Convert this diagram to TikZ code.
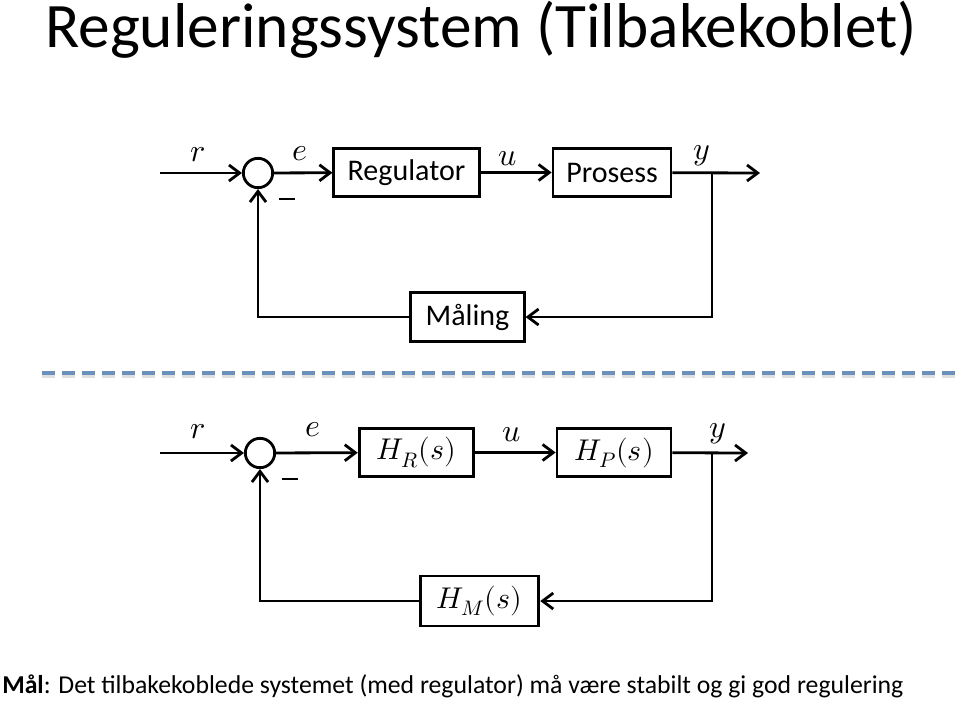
\documentclass[tikz,border=0pt]{standalone}
\usepackage{fontspec}
\usepackage{unicode-math}
\setmainfont{Carlito}
\setmathfont{Latin Modern Math}
\usetikzlibrary{arrows.meta}
\definecolor{dashblue}{HTML}{6A91BC}
\begin{document}
\begin{tikzpicture}[x=0.75pt,y=-0.75pt,
  conn/.style={line width=2.1pt},
  arr/.style={conn,-{Straight Barb[length=8pt,width=12pt,line width=2.1pt]}},
  blk/.style={draw,line width=2.1pt,minimum height=36pt,inner sep=0pt,font=\fontsize{22.5}{26}\selectfont},
  sumnode/.style={draw,circle,line width=2.1pt,minimum size=22pt,inner sep=0pt},
  sig/.style={inner sep=0pt,font=\fontsize{24}{28}\selectfont},
  minus/.style={inner sep=0pt}
]
\useasboundingbox (0,0) rectangle (960,701);
% title
\node[anchor=base west,inner sep=0pt,font=\fontsize{47.5}{52}\selectfont] (title) at (45,47) {Reguleringssystem (Tilbakekoblet)};

% ---------- top diagram ----------
\coordinate (r1) at (160,173);
\node[sumnode] (s1) at (258,173) {};
\node[blk,minimum width=109pt] (reg) at (406.5,172.5) {Regulator};
\node[blk,minimum width=88.5pt] (pro) at (612,172.5) {Prosess};
\node[blk,minimum width=85pt,minimum height=37pt] (mal) at (467.5,317) {Måling};
\coordinate (y1) at (760,173);
\coordinate (b1) at (712,173);
\draw[arr] (r1) -- (s1);
\draw[arr] (s1) -- (reg);
\draw[arr] (reg) -- (pro);
\draw[arr] (pro) -- (y1);
\draw[arr] (b1) |- (mal);
\draw[arr] (mal) -| (s1);
\node[sig] (lr1) at (198,155) {$r$};
\node[sig] (le1) at (300,154) {$e$};
\node[sig] (lu1) at (508,159) {$u$};
\node[sig] (ly1) at (702,156) {$y$};
\node[minus] (m1) at (287,199) {\rule{11.5pt}{2.2pt}};

% dashed separator
\draw[black!25,line width=3.5pt,dash pattern=on 9.75pt off 5.25pt,opacity=0.5] (42,376) -- (955,376);
\draw[dashblue,line width=3.5pt,dash pattern=on 9.75pt off 5.25pt] (42,373) -- (955,373);

% ---------- bottom diagram ----------
\coordinate (r2) at (160,453);
\node[sumnode] (s2) at (260,453) {};
\node[blk,minimum width=86pt] (hr) at (416.5,452.5) {$H_R(s)$};
\node[blk,minimum width=85.5pt] (hp) at (614,452.5) {$H_P(s)$};
\node[blk,minimum width=89pt,minimum height=37.5pt] (hm) at (479.5,601) {$H_M(s)$};
\coordinate (y2) at (748,453);
\coordinate (b2) at (712,453);
\draw[arr] (r2) -- (s2);
\draw[arr] (s2) -- (hr);
\draw[arr] (hr) -- (hp);
\draw[arr] (hp) -- (y2);
\draw[arr] (b2) |- (hm);
\draw[arr] (hm) -| (s2);
\node[sig] (lr2) at (198,432) {$r$};
\node[sig] (le2) at (313,430) {$e$};
\node[sig] (lu2) at (512,435) {$u$};
\node[sig] (ly2) at (718,434) {$y$};
\node[minus] (m2) at (290,479) {\rule{11.5pt}{2.2pt}};

% bottom text
\node[anchor=base west,inner sep=0pt,font=\fontsize{19.3}{23}\selectfont] (goal) at (2,693) {\textbf{Mål}: Det tilbakekoblede systemet (med regulator) må være stabilt og gi god regulering};
\end{tikzpicture}
\end{document}
